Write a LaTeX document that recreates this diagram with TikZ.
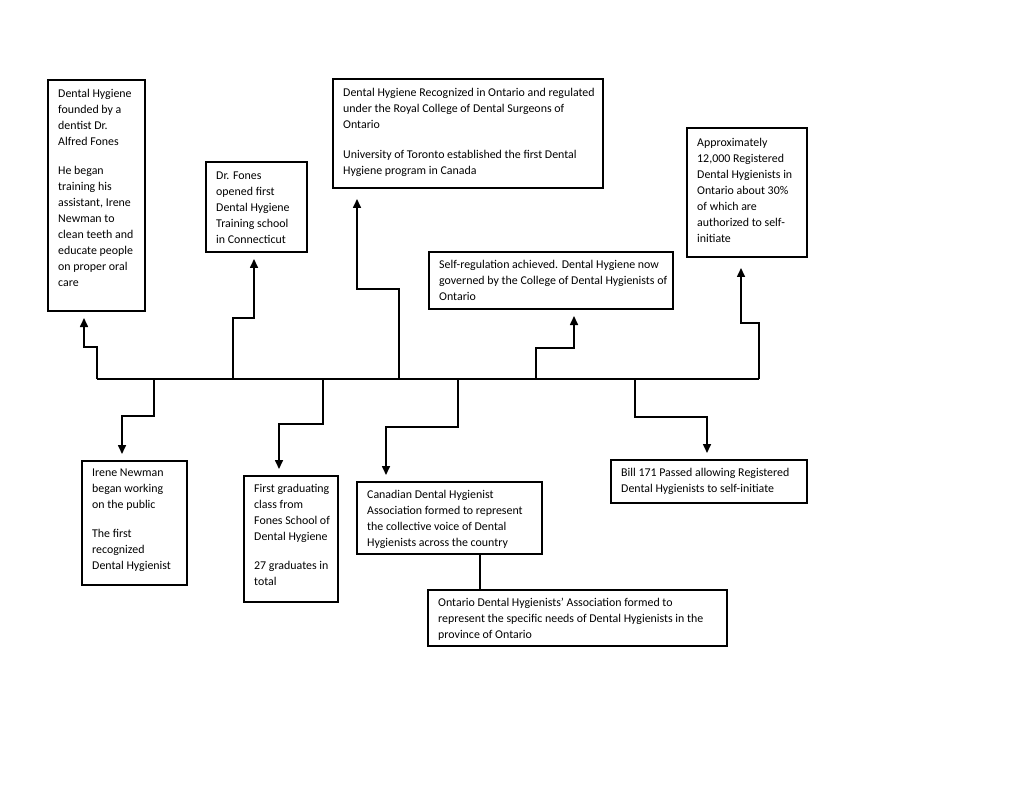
\documentclass[tikz,border=0pt]{standalone}
\usepackage{fontspec}
\setmainfont{Carlito}
\usetikzlibrary{arrows.meta}
\begin{document}
\begin{tikzpicture}[x=1pt,y=-1pt,
  box/.style={draw=black, line width=1.5pt, rectangle, anchor=north west, inner sep=0pt, outer sep=0pt},
  txt/.style={anchor=north west, align=left, inner sep=0pt, font=\fontsize{11.9}{16}\selectfont},
  link/.style={line width=1.6pt, draw=black},
  arr/.style={link, -{Triangle[length=9pt,width=8pt]}, shorten >=7pt},
  farr/.style={arr, shorten >=11pt},
]
\fill[white] (0,0) rectangle (1024,791);
\useasboundingbox (0,0) rectangle (1024,791);

% boxes
\node[box, minimum width=97pt, minimum height=231pt] (b1) at (48,80) {};
\node[box, minimum width=101pt, minimum height=90pt] (b2) at (206,162) {};
\node[box, minimum width=270pt, minimum height=109pt] (b3) at (333,79) {};
\node[box, minimum width=244pt, minimum height=57pt] (b4) at (429,252) {};
\node[box, minimum width=120pt, minimum height=129pt] (b5) at (687,128) {};
\node[box, minimum width=105pt, minimum height=124pt] (b6) at (82,461) {};
\node[box, minimum width=94pt, minimum height=126pt] (b7) at (244,476) {};
\node[box, minimum width=185pt, minimum height=72pt] (b8) at (357,482) {};
\node[box, minimum width=299pt, minimum height=56pt] (b9) at (428,590) {};
\node[box, minimum width=196pt, minimum height=43pt] (b10) at (611,460) {};

% texts
\node[txt] (x1) at ([shift={(10,9.5)}]b1.north west) {Dental Hygiene\\founded by a\\dentist Dr.\\Alfred Fones\\[13pt]He began\\training his\\assistant, Irene\\Newman to\\clean teeth and\\educate people\\on proper oral\\care};
\node[txt] (x2) at ([shift={(10,9.5)}]b2.north west) {Dr. Fones\\opened first\\Dental Hygiene\\Training school\\in Connecticut};
\node[txt] (x3) at ([shift={(10,9.5)}]b3.north west) {Dental Hygiene Recognized in Ontario and regulated\\under the Royal College of Dental Surgeons of\\Ontario\\[14pt]University of Toronto established the first Dental\\Hygiene program in Canada};
\node[txt] (x4) at ([shift={(10,8)}]b4.north west) {Self-regulation achieved. Dental Hygiene now\\governed by the College of Dental Hygienists of\\Ontario};
\node[txt] (x5) at ([shift={(10,10)}]b5.north west) {Approximately\\12,000 Registered\\Dental Hygienists in\\Ontario about 30\%\\of which are\\authorized to self-\\initiate};
\node[txt] (x6) at ([shift={(10,8)}]b6.north west) {Irene Newman\\began working\\on the public\\[13pt]The first\\recognized\\Dental Hygienist};
\node[txt] (x7) at ([shift={(10,8)}]b7.north west) {First graduating\\class from\\Fones School of\\Dental Hygiene\\[13pt]27 graduates in\\total};
\node[txt] (x8) at ([shift={(10,8)}]b8.north west) {Canadian Dental Hygienist\\Association formed to represent\\the collective voice of Dental\\Hygienists across the country};
\node[txt] (x9) at ([shift={(10,8)}]b9.north west) {Ontario Dental Hygienists’ Association formed to\\represent the specific needs of Dental Hygienists in the\\province of Ontario};
\node[txt] (x10) at ([shift={(10,8)}]b10.north west) {Bill 171 Passed allowing Registered\\Dental Hygienists to self-initiate};

% timeline
\coordinate (tl) at (97,379);
\coordinate (tr) at (759,379);
\coordinate (t2) at (233,379);
\coordinate (t3) at (399,379);
\coordinate (t4) at (536,379);
\coordinate (t6) at (154,379);
\coordinate (t7) at (323,379);
\coordinate (t8) at (458,379);
\coordinate (t9) at (635,379);
\draw[link] (tl) -- (tr);

% up connectors
\draw[arr] (tl) -- ++(0,-32) -| (84,0 |- b1.south);
\draw[arr] (t2) -- ++(0,-61) -| (254,0 |- b2.south);
\draw[farr] (t3) -- ++(0,-90) -| (357,0 |- b3.south);
\draw[arr] (t4) -- ++(0,-31) -| (574,0 |- b4.south);
\draw[farr] (tr) -- ++(0,-56) -| (741,0 |- b5.south);

% down connectors
\draw[arr] (t6) -- ++(0,37) -| (122,0 |- b6.north);
\draw[arr] (t7) -- ++(0,45) -| (279,0 |- b7.north);
\draw[arr] (t8) -- ++(0,48) -| (386,0 |- b8.north);
\draw[arr] (t9) -- ++(0,38) -| (707,0 |- b10.north);

% association link
\draw[link] (480,0 |- b8.south) -- (480,0 |- b9.north);
\end{tikzpicture}
\end{document}
